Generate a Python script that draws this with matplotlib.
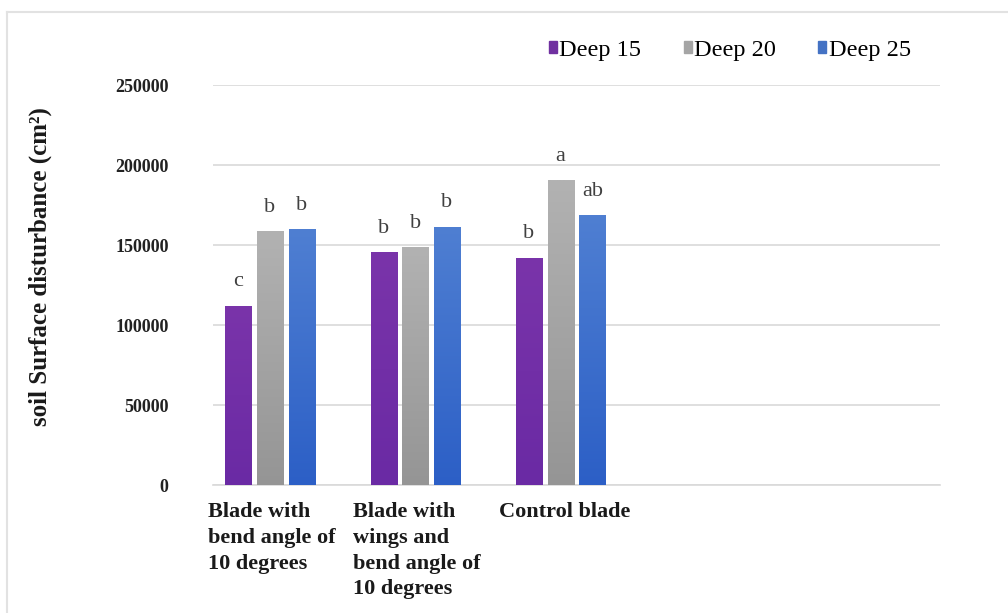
import numpy as np
import matplotlib.pyplot as plt
from matplotlib.colors import LinearSegmentedColormap
from matplotlib.patches import Rectangle

# data
categories = ['Blade with\nbend angle of\n10 degrees',
              'Blade with\nwings and\nbend angle of\n10 degrees',
              'Control blade', '', '']
series = ['Deep 15', 'Deep 20', 'Deep 25']
deep15 = [112000, 145500, 142000]
deep20 = [158500, 148500, 190500]
deep25 = [160000, 161500, 168500]
letters15 = ['c', 'b', 'b']
letters20 = ['b', 'b', 'a']
letters25 = ['b', 'b', 'ab']
yticks = [0, 50000, 100000, 150000, 200000, 250000]

# (top colour, bottom colour) for each series
grads = [('#7a34aa', '#6a2aa4'), ('#b2b2b2', '#959595'), ('#4f7fd2', '#2c5fc6')]
legend_cols = ['#7030a0', '#a5a5a5', '#4472c4']


def main():
    fig = plt.figure(figsize=(10.08, 6.13), dpi=100)
    ax = fig.add_axes([0.2113, 0.2088, 0.7212, 0.6525])

    # light frame lines like the source screenshot
    fig.add_artist(plt.Line2D([0.007, 1.0], [0.980, 0.980], transform=fig.transFigure,
                              color='#e2e2e2', lw=1.5))
    fig.add_artist(plt.Line2D([0.007, 0.007], [0.0, 0.980], transform=fig.transFigure,
                              color='#e2e2e2', lw=1.5))

    x = np.arange(3)
    step = 0.218
    width = 0.179
    data = [deep15, deep20, deep25]
    letters = [letters15, letters20, letters25]
    grad = np.linspace(0, 1, 256).reshape(-1, 1)

    for i, (vals, labs) in enumerate(zip(data, letters)):
        pos = x + (i - 1.5) * step
        bars = ax.bar(pos, vals, width, color=legend_cols[i], label=series[i], zorder=2)
        cmap = LinearSegmentedColormap.from_list('g%d' % i, [grads[i][1], grads[i][0]])
        for b in bars:
            x0, w, h = b.get_x(), b.get_width(), b.get_height()
            im = ax.imshow(grad, cmap=cmap, origin='lower', aspect='auto',
                           extent=(x0, x0 + w, 0, h), zorder=3)
            im.set_clip_path(Rectangle((x0, 0), w, h, transform=ax.transData))
        for p, v, t in zip(pos, vals, labs):
            ax.annotate(t, (p, v), xytext=(0, 14), textcoords='offset points',
                        ha='center', va='baseline', fontsize=16,
                        family='Liberation Serif', color='#404040')

    ax.set_xlim(-0.5, 4.5)
    ax.set_ylim(0, 250000)
    ax.set_yticks(yticks)
    ax.set_yticklabels([str(t) for t in yticks], family='Liberation Serif',
                       fontweight='bold', fontsize=13, color='#222222')
    ax.tick_params(axis='y', length=0, pad=32)
    ax.set_xticks([])
    ax.grid(axis='y', color='#d9d9d9', lw=1.2, zorder=0)
    for s in ['top', 'right', 'left']:
        ax.spines[s].set_visible(False)
    ax.spines['bottom'].set_color('#d9d9d9')
    ax.spines['bottom'].set_linewidth(1.2)

    # category labels, left aligned under each slot
    for i, c in enumerate(categories):
        if c:
            ax.text(i - 0.535, -0.043, c, transform=ax.get_xaxis_transform(),
                    ha='left', va='top', family='Liberation Serif', fontweight='bold',
                    fontsize=16, linespacing=1.38, color='#1a1a1a')

    fig.text(0.040, 0.565, 'soil Surface disturbance (cm²)', rotation=90,
             ha='center', va='center', family='Liberation Serif', fontweight='bold',
             fontsize=18, color='#1a1a1a')

    handles = [Rectangle((0, 0), 1, 1, color=c) for c in legend_cols]
    fig.legend(handles, series, loc='center', bbox_to_anchor=(0.724, 0.918), ncol=3,
               frameon=False, handlelength=0.33, handleheight=0.33, handletextpad=0.1,
               columnspacing=1.75, prop={'family': 'Liberation Serif', 'size': 17.5})

    fig.savefig('out.png', dpi=100)


if __name__ == "__main__":
    main()
